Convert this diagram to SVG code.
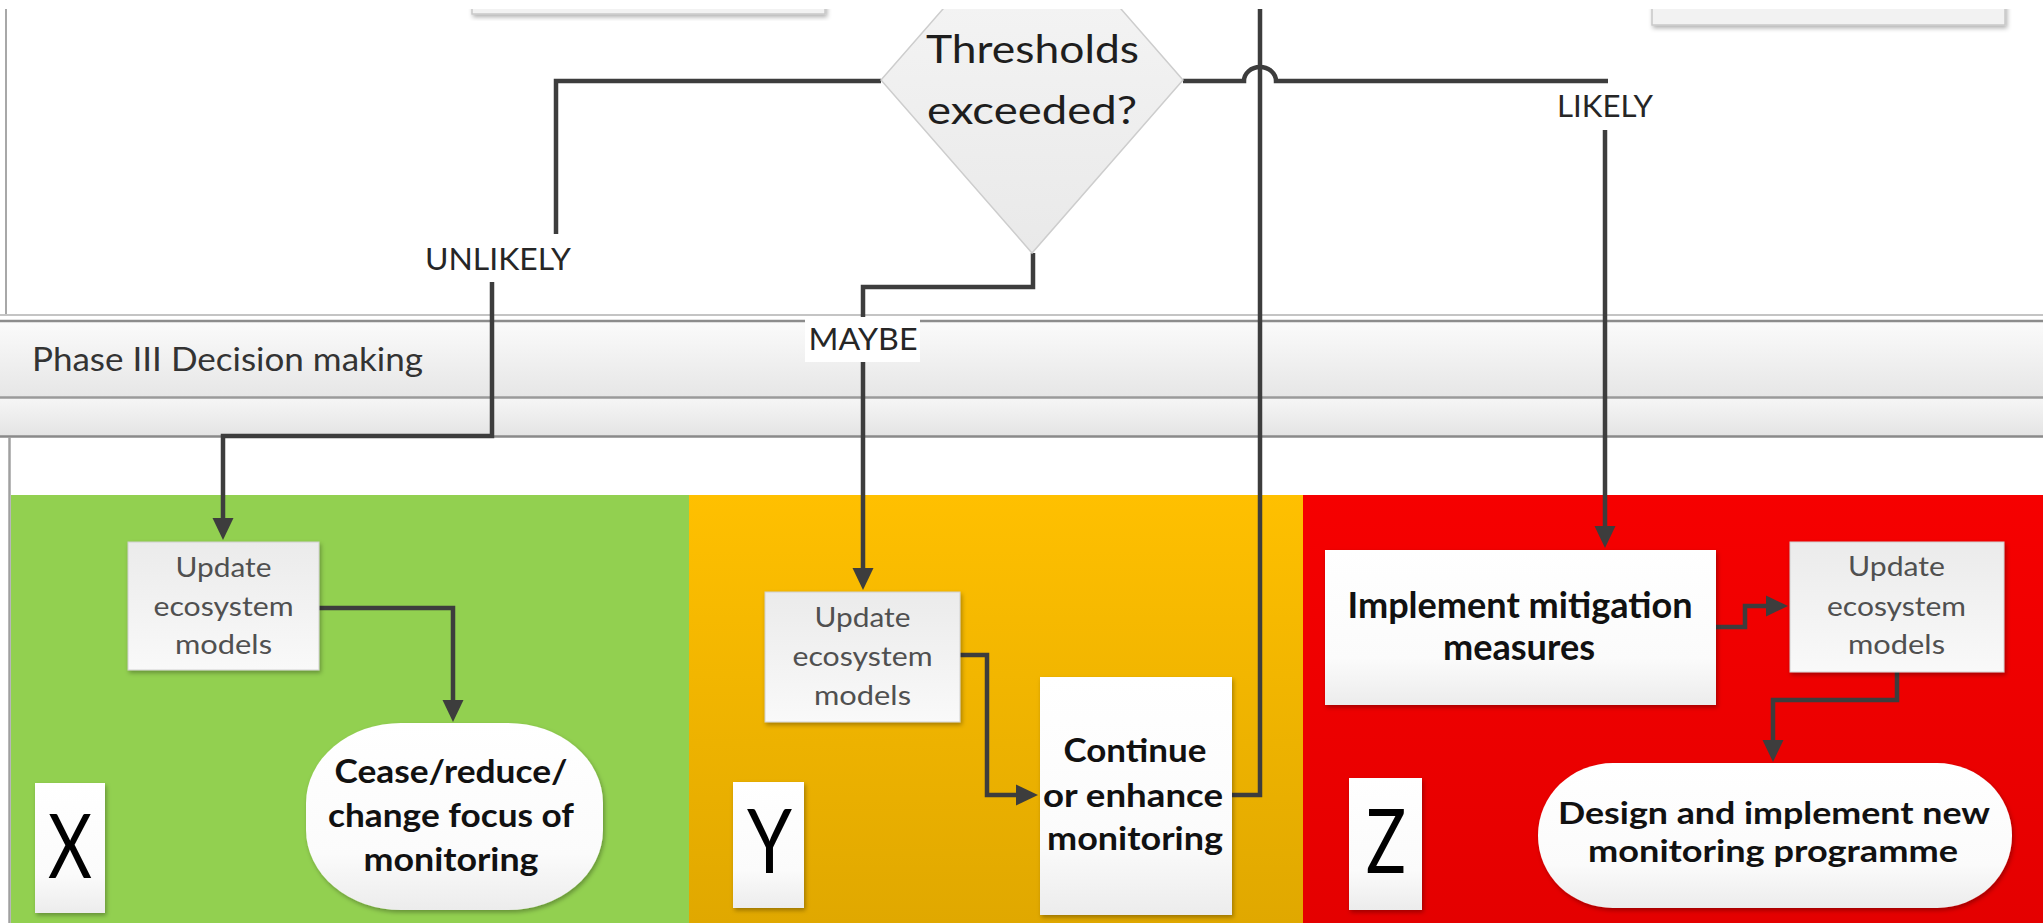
<svg xmlns="http://www.w3.org/2000/svg" width="2043" height="923" viewBox="0 0 2043 923">
  <defs>
    <style>
      .lbl { font-family: Lato, "Liberation Sans", sans-serif; text-anchor: middle; }
      .cond { font-size: 31px; fill: #262626; }
      .upd { font-size: 27px; fill: #505050; }
      .bold { font-weight: 700; fill: #111111; }
      .letter { font-size: 90px; fill: #000000; font-weight: 400; }
      .wire { fill: none; stroke: #3d3d3d; stroke-width: 4.5; stroke-linejoin: miter; }
      .box { stroke: #d0d0d0; stroke-width: 1; }
      .band-line { stroke-width: 2.5; }
    </style>
    <linearGradient id="gBand1" x1="0" y1="0" x2="0" y2="1">
      <stop offset="0" stop-color="#fbfbfb"/>
      <stop offset="1" stop-color="#e6e6e6"/>
    </linearGradient>
    <linearGradient id="gBand2" x1="0" y1="0" x2="0" y2="1">
      <stop offset="0" stop-color="#f6f6f6"/>
      <stop offset="1" stop-color="#e4e4e4"/>
    </linearGradient>
    <linearGradient id="gYellow" x1="0" y1="0" x2="0" y2="1">
      <stop offset="0" stop-color="#ffc000"/>
      <stop offset="1" stop-color="#e0a800"/>
    </linearGradient>
    <linearGradient id="gRed" x1="0" y1="0" x2="0" y2="1">
      <stop offset="0" stop-color="#f60000"/>
      <stop offset="1" stop-color="#e40000"/>
    </linearGradient>
    <linearGradient id="gGrey" x1="0" y1="0" x2="0" y2="1">
      <stop offset="0" stop-color="#ebebeb"/>
      <stop offset="1" stop-color="#f9f9f9"/>
    </linearGradient>
    <linearGradient id="gWhite" x1="0" y1="0" x2="0" y2="1">
      <stop offset="0" stop-color="#ffffff"/>
      <stop offset="0.7" stop-color="#fbfbfb"/>
      <stop offset="1" stop-color="#ececec"/>
    </linearGradient>
    <linearGradient id="gDiamond" x1="0" y1="0" x2="0" y2="1">
      <stop offset="0" stop-color="#f7f7f7"/>
      <stop offset="1" stop-color="#e9e9e9"/>
    </linearGradient>
    <filter id="shadow" x="-10%" y="-10%" width="120%" height="130%">
      <feDropShadow dx="1.5" dy="2.5" stdDeviation="2" flood-color="#000" flood-opacity="0.3"/>
    </filter>
    <marker id="arr" viewBox="0 0 22 22" refX="9" refY="11" markerWidth="22" markerHeight="22" markerUnits="userSpaceOnUse" orient="auto">
      <path d="M0,0.5 L22,11 L0,21.5 z" fill="#3d3d3d"/>
    </marker>
    <clipPath id="frame">
      <rect x="0" y="9" width="2043" height="914"/>
    </clipPath>
  </defs>

  <rect x="0" y="0" width="2043" height="923" fill="#ffffff"/>

  <g clip-path="url(#frame)">
    <!-- lane background: upper lane, phase band, outcome panels -->
    <g id="lanes">
      <line x1="6" y1="0" x2="6" y2="315" stroke="#a8a8a8" stroke-width="2"/>
      <rect x="472" y="-20" width="353" height="34" fill="#f2f2f2" stroke="#c8c8c8" stroke-width="1.5" filter="url(#shadow)"/>
      <rect x="1652" y="-20" width="353" height="45" fill="#f2f2f2" stroke="#c8c8c8" stroke-width="1.5" filter="url(#shadow)"/>

      <rect x="0" y="321" width="2043" height="76" fill="url(#gBand1)"/>
      <rect x="0" y="398" width="2043" height="38" fill="url(#gBand2)"/>
      <line x1="0" y1="315" x2="2043" y2="315" stroke="#c4c4c4" stroke-width="2"/>
      <line x1="0" y1="321" x2="2043" y2="321" class="band-line" stroke="#8c8c8c"/>
      <line x1="0" y1="397.5" x2="2043" y2="397.5" class="band-line" stroke="#9a9a9a"/>
      <line x1="0" y1="436.5" x2="2043" y2="436.5" class="band-line" stroke="#8a8a8a"/>
      <text class="lbl" x="227.5" y="371" font-size="33" fill="#333333" textLength="391" lengthAdjust="spacingAndGlyphs">Phase III Decision making</text>

      <line x1="9.5" y1="437" x2="9.5" y2="923" stroke="#a0a0a0" stroke-width="2.5"/>
      <rect x="11" y="495" width="678" height="428" fill="#92d050"/>
      <rect x="689" y="495" width="614" height="428" fill="url(#gYellow)"/>
      <rect x="1303" y="495" width="740" height="428" fill="url(#gRed)"/>
    </g>

    <!-- connectors -->
    <g id="connectors">
      <!-- UNLIKELY branch -->
      <path class="wire" d="M881,81 H556 V234"/>
      <path class="wire" d="M492,282 V436 H223 V527" marker-end="url(#arr)"/>
      <!-- MAYBE branch -->
      <path class="wire" d="M1033,253 V287 H863 V318"/>
      <path class="wire" d="M863,362 V577" marker-end="url(#arr)"/>
      <!-- LIKELY branch, hopping over the feedback line -->
      <path class="wire" d="M1183,81 H1244 A16,14 0 0 1 1276,81 H1608"/>
      <path class="wire" d="M1605,130 V535" marker-end="url(#arr)"/>
      <!-- feedback from continued monitoring back up to the top -->
      <path class="wire" d="M1232,795 H1260 V0"/>
      <!-- within outcome panels -->
      <path class="wire" d="M319,608 H453 V709" marker-end="url(#arr)"/>
      <path class="wire" d="M960,655 H987 V795 H1025" marker-end="url(#arr)"/>
      <path class="wire" d="M1716,627 H1745 V606 H1775" marker-end="url(#arr)"/>
      <path class="wire" d="M1897,672 V700 H1773 V749" marker-end="url(#arr)"/>
    </g>

    <!-- decision node -->
    <g id="decision">
      <polygon points="1032,-93 1183,80 1032,253 881,80" fill="url(#gDiamond)" stroke="#cdcdcd" stroke-width="1.5"/>
      <text class="lbl" x="1032.5" y="63" font-size="39" fill="#1e1e1e" textLength="213" lengthAdjust="spacingAndGlyphs">Thresholds</text>
      <text class="lbl" x="1032" y="124" font-size="39" fill="#1e1e1e" textLength="210" lengthAdjust="spacingAndGlyphs">exceeded?</text>
    </g>

    <!-- branch labels -->
    <g id="label-unlikely">
      <rect x="422" y="242" width="155" height="36" fill="#ffffff"/>
      <text class="lbl cond" x="498" y="270" textLength="146" lengthAdjust="spacingAndGlyphs">UNLIKELY</text>
    </g>
    <g id="label-maybe">
      <rect x="805" y="317" width="115" height="45" fill="#ffffff"/>
      <text class="lbl cond" x="863" y="350" textLength="109" lengthAdjust="spacingAndGlyphs">MAYBE</text>
    </g>
    <g id="label-likely">
      <rect x="1553" y="84" width="104" height="42" fill="#ffffff"/>
      <text class="lbl cond" x="1605" y="117" textLength="96" lengthAdjust="spacingAndGlyphs">LIKELY</text>
    </g>

    <!-- outcome X -->
    <g id="update-x">
      <rect class="box" x="128" y="542" width="191" height="128" fill="url(#gGrey)" filter="url(#shadow)"/>
      <text class="lbl upd" x="223.5" y="577" textLength="96" lengthAdjust="spacingAndGlyphs">Update</text>
      <text class="lbl upd" x="223.5" y="616" textLength="140" lengthAdjust="spacingAndGlyphs">ecosystem</text>
      <text class="lbl upd" x="223.5" y="654" textLength="97" lengthAdjust="spacingAndGlyphs">models</text>
    </g>
    <g id="cease">
      <rect x="306" y="723" width="297" height="187" rx="95" ry="80" fill="url(#gWhite)" filter="url(#shadow)"/>
      <text class="lbl bold" x="451" y="783" font-size="32" textLength="233" lengthAdjust="spacingAndGlyphs">Cease/reduce/</text>
      <text class="lbl bold" x="451" y="827" font-size="32" textLength="246" lengthAdjust="spacingAndGlyphs">change focus of</text>
      <text class="lbl bold" x="451" y="871" font-size="32" textLength="175" lengthAdjust="spacingAndGlyphs">monitoring</text>
    </g>
    <g id="tag-x">
      <rect x="35" y="783" width="70" height="130" fill="url(#gWhite)" filter="url(#shadow)"/>
      <text class="lbl letter" x="70" y="878" textLength="44" lengthAdjust="spacingAndGlyphs">X</text>
    </g>

    <!-- outcome Y -->
    <g id="update-y">
      <rect class="box" x="765" y="592" width="195" height="130" fill="url(#gGrey)" filter="url(#shadow)"/>
      <text class="lbl upd" x="862.5" y="627" textLength="96" lengthAdjust="spacingAndGlyphs">Update</text>
      <text class="lbl upd" x="862.5" y="666" textLength="140" lengthAdjust="spacingAndGlyphs">ecosystem</text>
      <text class="lbl upd" x="862.5" y="705" textLength="97" lengthAdjust="spacingAndGlyphs">models</text>
    </g>
    <g id="continue">
      <rect x="1040" y="677" width="192" height="238" fill="url(#gWhite)" filter="url(#shadow)"/>
      <text class="lbl bold" x="1135" y="762" font-size="32" textLength="143" lengthAdjust="spacingAndGlyphs">Continue</text>
      <text class="lbl bold" x="1133" y="807" font-size="32" textLength="180" lengthAdjust="spacingAndGlyphs">or enhance</text>
      <text class="lbl bold" x="1135" y="850" font-size="32" textLength="176" lengthAdjust="spacingAndGlyphs">monitoring</text>
    </g>
    <g id="tag-y">
      <rect x="733" y="782" width="71" height="126" fill="url(#gWhite)" filter="url(#shadow)"/>
      <text class="lbl letter" x="769.5" y="873" textLength="45" lengthAdjust="spacingAndGlyphs">Y</text>
    </g>

    <!-- outcome Z -->
    <g id="mitigation">
      <rect x="1325" y="550" width="391" height="155" fill="url(#gWhite)" filter="url(#shadow)"/>
      <text class="lbl bold" x="1520" y="618" font-size="36" textLength="345" lengthAdjust="spacingAndGlyphs">Implement mitigation</text>
      <text class="lbl bold" x="1519" y="660" font-size="36" textLength="152" lengthAdjust="spacingAndGlyphs">measures</text>
    </g>
    <g id="update-z">
      <rect class="box" x="1790" y="542" width="214" height="130" fill="url(#gGrey)" filter="url(#shadow)"/>
      <text class="lbl upd" x="1896.5" y="576" textLength="97" lengthAdjust="spacingAndGlyphs">Update</text>
      <text class="lbl upd" x="1896.5" y="616" textLength="139" lengthAdjust="spacingAndGlyphs">ecosystem</text>
      <text class="lbl upd" x="1896.5" y="654" textLength="97" lengthAdjust="spacingAndGlyphs">models</text>
    </g>
    <g id="new-programme">
      <rect x="1538" y="763" width="474" height="145" rx="75" ry="72" fill="url(#gWhite)" filter="url(#shadow)"/>
      <text class="lbl bold" x="1774" y="824" font-size="31" textLength="432" lengthAdjust="spacingAndGlyphs">Design and implement new</text>
      <text class="lbl bold" x="1773" y="862" font-size="31" textLength="370" lengthAdjust="spacingAndGlyphs">monitoring programme</text>
    </g>
    <g id="tag-z">
      <rect x="1349" y="778" width="73" height="132" fill="url(#gWhite)" filter="url(#shadow)"/>
      <text class="lbl letter" x="1386" y="873" textLength="40" lengthAdjust="spacingAndGlyphs">Z</text>
    </g>
  </g>
</svg>
